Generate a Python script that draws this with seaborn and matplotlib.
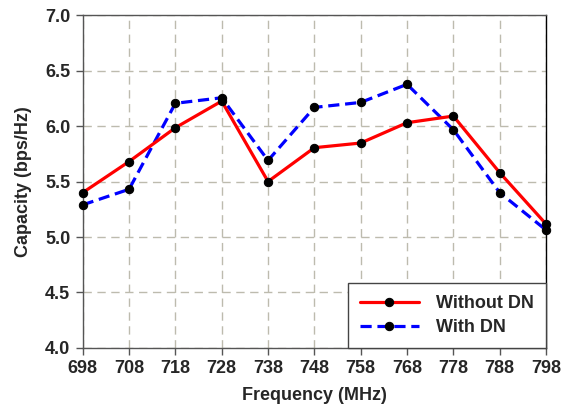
import matplotlib
matplotlib.use("Agg")
import matplotlib.pyplot as plt
import seaborn as sns
import pandas as pd

freq = [698, 708, 718, 728, 738, 748, 758, 768, 778, 788, 798]
without_dn = [5.40, 5.68, 5.985, 6.225, 5.50, 5.805, 5.847, 6.03, 6.09, 5.58, 5.117]
with_dn = [5.29, 5.43, 6.205, 6.255, 5.69, 6.168, 6.213, 6.376, 5.967, 5.40, 5.063]
yticks = [4.0, 4.5, 5.0, 5.5, 6.0, 6.5, 7.0]

sns.set_style("white")
plt.rcParams['font.family'] = ['Liberation Sans', 'DejaVu Sans']

fig = plt.figure(figsize=(5.67, 4.19), dpi=100)
ax = fig.add_axes([0.1459, 0.1695, 0.963 - 0.1459, 0.964 - 0.1695])

df1 = pd.DataFrame({"f": freq, "c": without_dn})
df2 = pd.DataFrame({"f": freq, "c": with_dn})

sns.lineplot(data=df1, x="f", y="c", ax=ax, color="#ff0000", lw=2.3,
             marker="o", markersize=6, markerfacecolor="black",
             markeredgecolor="black", label="Without DN", zorder=4,
             clip_on=False)
sns.lineplot(data=df2, x="f", y="c", ax=ax, color="#0000ff", lw=2.3,
             marker="o", markersize=6, markerfacecolor="black",
             markeredgecolor="black", label="With DN", dashes=(3.5, 1.8),
             zorder=3, clip_on=False)

ax.set_xlim(698, 798)
ax.set_ylim(4.0, 7.0)
ax.set_xticks(freq)
ax.set_yticks(yticks)
ax.set_xticklabels([str(f) for f in freq])
ax.set_yticklabels([f"{v:.1f}" for v in yticks])

ax.grid(True, color="#bdbbae", linestyle=(0, (6, 4)), linewidth=1.0, zorder=0)
ax.set_axisbelow(True)

for side in ["left", "bottom", "top"]:
    ax.spines[side].set_color("#555555")
    ax.spines[side].set_linewidth(1.0)
ax.spines["right"].set_color("black")
ax.spines["right"].set_linewidth(1.0)

ax.tick_params(axis="both", direction="out", length=5, width=1,
               color="#555555", labelsize=13, pad=4, bottom=True, left=True)
for lbl in ax.get_xticklabels() + ax.get_yticklabels():
    lbl.set_fontweight("bold")

ax.set_xlabel("Frequency (MHz)", fontsize=13, fontweight="bold", labelpad=7)
ax.set_ylabel("Capacity (bps/Hz)", fontsize=13, fontweight="bold", labelpad=9)

leg = ax.legend(loc="lower right", borderaxespad=0, fancybox=False,
                framealpha=1, edgecolor="#444444",
                handlelength=3.3, handletextpad=0.95, borderpad=0.65,
                labelspacing=0.4, prop={"weight": "bold", "size": 13})
leg.get_frame().set_linewidth(1.0)
leg.set_zorder(10)

fig.savefig("out.png", dpi=100)
